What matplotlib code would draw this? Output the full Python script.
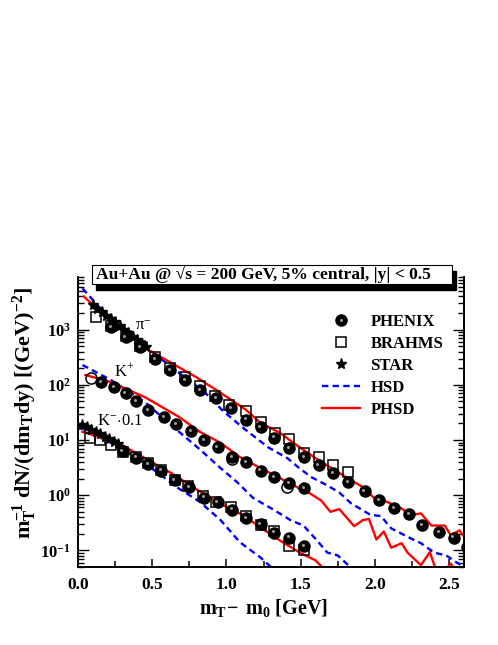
import math
import matplotlib
matplotlib.use('Agg')
import matplotlib.pyplot as plt
import matplotlib.patches as patches
from matplotlib.transforms import offset_copy
from matplotlib.ticker import LogLocator, FuncFormatter, MultipleLocator, NullFormatter
from matplotlib.legend_handler import HandlerTuple
from matplotlib.lines import Line2D

plt.rcParams['font.family'] = ['Liberation Serif', 'DejaVu Serif']
plt.rcParams['mathtext.fontset'] = 'custom'
plt.rcParams['mathtext.rm'] = 'Liberation Serif'
plt.rcParams['mathtext.it'] = 'Liberation Serif:italic'
plt.rcParams['mathtext.bf'] = 'Liberation Serif:bold'

# ---- data ----
# pi-
pi_phenix_x = [0.22, 0.32, 0.42, 0.52, 0.62, 0.72, 0.82, 0.93, 1.03, 1.13, 1.23, 1.32, 1.42,
               1.52, 1.62, 1.72, 1.82, 1.93, 2.03, 2.13, 2.23, 2.32, 2.43, 2.53, 2.62]
pi_phenix_y = [1100, 740, 490, 295, 186, 120, 80, 57, 38, 23.5, 17, 11, 7.2,
               4.9, 3.5, 2.5, 1.74, 1.18, 0.82, 0.59, 0.45, 0.29, 0.215, 0.17, 0.115]
pi_brahms_x = [0.12, 0.22, 0.32, 0.42, 0.52, 0.62, 0.72, 0.82, 0.92, 1.02, 1.13, 1.23,
               1.33, 1.42, 1.52, 1.62, 1.72, 1.82]
pi_brahms_y = [1700, 1150, 760, 500, 320, 200, 140, 95, 63, 44, 34, 21,
               13.5, 10.5, 5.9, 5.0, 3.5, 2.6]
pi_star_x = [0.10, 0.13, 0.16, 0.19, 0.22, 0.25, 0.28, 0.31, 0.34, 0.37, 0.40, 0.43, 0.46]
pi_star_y = [2800, 2400, 2100, 1800, 1550, 1350, 1170, 1000, 870, 750, 650, 560, 480]

# K+
kp_phenix_x = [0.155, 0.24, 0.32, 0.39, 0.47, 0.58, 0.66, 0.76, 0.85, 0.94, 1.04, 1.13,
               1.23, 1.32, 1.42, 1.52]
kp_phenix_y = [112, 91, 71, 51, 35, 26, 19.6, 14.5, 10, 7.4, 4.9, 4.0,
               2.8, 2.1, 1.66, 1.35]
kp_open_x = [0.09, 1.04, 1.41]
kp_open_y = [134, 4.5, 1.4]

# K- * 0.1
km_phenix_x = [0.30, 0.39, 0.47, 0.56, 0.65, 0.75, 0.85, 0.94, 1.04, 1.13, 1.23, 1.32,
               1.42, 1.52]
km_phenix_y = [6.3, 4.8, 3.7, 2.8, 1.85, 1.4, 0.9, 0.76, 0.55, 0.39, 0.30, 0.21,
               0.17, 0.12]
km_brahms_x = [0.08, 0.15, 0.22, 0.30, 0.39, 0.47, 0.56, 0.65, 0.74, 0.84, 0.93, 1.03,
               1.13, 1.23, 1.32, 1.42, 1.52]
km_brahms_y = [11, 10, 8.1, 6.0, 4.9, 3.8, 2.9, 1.9, 1.45, 0.95, 0.74, 0.6,
               0.42, 0.29, 0.22, 0.12, 0.10]
km_star_x = [0.03, 0.06, 0.09, 0.12, 0.15, 0.18, 0.21, 0.24, 0.27]
km_star_y = [18.5, 17, 15.5, 14, 12.7, 11.5, 10.3, 9.3, 8.4]

# HSD (blue dashed)
pi_hsd_x = [0.03, 0.22, 0.45, 0.68, 0.85, 0.98, 1.12, 1.28, 1.41, 1.49, 1.57, 1.68, 1.76,
            1.84, 1.97, 2.04, 2.11, 2.24, 2.31, 2.40, 2.48, 2.56, 2.62]
pi_hsd_y = [5600, 1500, 500, 165, 75, 33, 16, 7.4, 4.7, 3.1, 2.14, 1.5, 1.12,
            0.71, 0.44, 0.42, 0.25, 0.166, 0.135, 0.091, 0.081, 0.058, 0.05]
kp_hsd_x = [0.03, 0.22, 0.45, 0.61, 0.82, 0.96, 1.07, 1.18, 1.32, 1.43, 1.52, 1.61, 1.68,
            1.75, 1.82, 1.86]
kp_hsd_y = [229, 123, 49, 20.4, 6.8, 3.1, 1.74, 0.89, 0.54, 0.355, 0.28, 0.151, 0.091,
            0.081, 0.054, 0.045]
km_hsd_x = [0.0, 0.22, 0.45, 0.68, 0.82, 0.96, 1.09, 1.23, 1.30]
km_hsd_y = [17.4, 8.9, 3.8, 1.32, 0.76, 0.355, 0.141, 0.074, 0.05]

# PHSD (red solid)
pi_phsd_x = [0.04, 0.22, 0.45, 0.62, 0.79, 0.96, 1.13, 1.23, 1.36, 1.45, 1.59, 1.72, 1.84,
             1.93, 1.99, 2.09, 2.18, 2.24, 2.31, 2.38, 2.47, 2.51, 2.57, 2.62]
pi_phsd_y = [3980, 1410, 468, 257, 141, 72, 35.5, 20.4, 13.5, 8.9, 4.9, 2.95, 1.86,
             1.35, 0.91, 0.74, 0.575, 0.436, 0.468, 0.282, 0.282, 0.19, 0.23, 0.15]
kp_phsd_x = [0.05, 0.22, 0.45, 0.68, 0.82, 0.96, 1.09, 1.23, 1.36, 1.50, 1.57, 1.64, 1.70,
             1.76, 1.86, 1.92, 1.96, 2.01, 2.06, 2.11, 2.18, 2.22, 2.31, 2.37, 2.41, 2.46,
             2.51, 2.55]
kp_phsd_y = [151, 112, 60, 26.3, 14.1, 8.9, 4.9, 3.1, 2.04, 1.29, 1.05, 0.79, 0.5,
             0.56, 0.275, 0.355, 0.37, 0.158, 0.22, 0.112, 0.135, 0.091, 0.054, 0.093, 0.045, 0.04,
             0.058, 0.04]
km_phsd_x = [0.03, 0.27, 0.45, 0.63, 0.82, 0.95, 1.05, 1.13, 1.23, 1.36, 1.50, 1.60, 1.66]
km_phsd_y = [14.1, 8.9, 4.7, 2.5, 1.17, 0.71, 0.54, 0.4, 0.26, 0.151, 0.089, 0.066, 0.045]

# ---- figure ----
fig = plt.figure(figsize=(4.98, 6.45), dpi=100)
ax = fig.add_axes([78/498, 1-567/645, 386/498, 290/645])

blue = '#0000ff'
red = '#ff0000'
dash = (2.7, 1.8)
for xs, ys in [(pi_hsd_x, pi_hsd_y), (kp_hsd_x, kp_hsd_y), (km_hsd_x, km_hsd_y)]:
    ax.plot(xs, ys, color=blue, lw=1.7, dashes=dash, zorder=2)
for xs, ys in [(pi_phsd_x, pi_phsd_y), (kp_phsd_x, kp_phsd_y), (km_phsd_x, km_phsd_y)]:
    ax.plot(xs, ys, color=red, lw=1.7, zorder=2)

# BRAHMS squares
for xs, ys in [(pi_brahms_x, pi_brahms_y), (km_brahms_x, km_brahms_y)]:
    ax.plot(xs, ys, ls='none', marker='s', ms=7.5, mfc='none', mec='black', mew=1.1, zorder=3)
# open circles
ax.plot(kp_open_x, kp_open_y, ls='none', marker='o', ms=8, mfc='none', mec='black', mew=1.1, zorder=3)

# PHENIX shaded spheres
hl = offset_copy(ax.transData, fig=fig, x=-0.8, y=0.9, units='points')
for xs, ys in [(pi_phenix_x, pi_phenix_y), (kp_phenix_x, kp_phenix_y), (km_phenix_x, km_phenix_y)]:
    ax.plot(xs, ys, ls='none', marker='o', ms=8, mfc='black', mec='black', zorder=4)
    ax.plot(xs, ys, ls='none', marker='o', ms=2.2, mfc='#999999', mec='none', transform=hl, zorder=5)

# STAR stars
for xs, ys in [(pi_star_x, pi_star_y), (km_star_x, km_star_y)]:
    ax.plot(xs, ys, ls='none', marker='*', ms=8, mfc='black', mec='black', zorder=4)

ax.set_yscale('log')
ax.set_xlim(0, 2.6)
ax.set_ylim(0.05, 9000)

ax.spines['top'].set_visible(False)
for s in ['left', 'bottom', 'right']:
    ax.spines[s].set_linewidth(1.4)

ax.xaxis.set_major_locator(MultipleLocator(0.5))
ax.xaxis.set_minor_locator(MultipleLocator(0.25))
ax.xaxis.set_major_formatter(FuncFormatter(lambda v, p: '%.1f' % v))
ax.yaxis.set_major_locator(LogLocator(base=10, numticks=20))
ax.yaxis.set_minor_locator(LogLocator(base=10, subs=range(2, 10), numticks=20))
ax.yaxis.set_minor_formatter(NullFormatter())
ax.yaxis.set_major_formatter(FuncFormatter(lambda v, p: r'$\mathbf{10^{%d}}$' % round(math.log10(v))))

ax.tick_params(axis='x', which='both', direction='in', top=False, width=1.1)
ax.tick_params(axis='x', which='major', length=6, labelsize=12.5, pad=7)
ax.tick_params(axis='x', which='minor', length=4)
ax.tick_params(axis='y', which='both', direction='in', left=True, right=True, width=1.0)
ax.tick_params(axis='y', which='major', length=8, labelsize=12, pad=5)
ax.tick_params(axis='y', which='minor', length=4)
for lab in ax.get_xticklabels():
    lab.set_fontweight('bold')

ax.set_xlabel(r'$\mathbf{m_{T}\!-\ m_{0}\ [GeV]}$', fontsize=14.5)
ax.xaxis.set_label_coords(0.48, -0.105)
ax.set_ylabel(r'$\mathbf{m_{T}^{-1}\ dN/(dm_{T}dy)\ [(GeV)^{-2}]}$', fontsize=16)
ax.yaxis.set_label_coords(-0.10, 0.53)

# particle labels
ax.text(0.385, 1000, r'$\mathrm{\pi}^{-}$', fontsize=12, va='baseline')
ax.text(0.24, 140, r'$\mathrm{K}^{+}$', fontsize=12, va='baseline')
ax.text(0.13, 19, r'$\mathrm{K}^{-}\!\cdot\!\mathrm{0.1}$', fontsize=12, va='baseline')

# legend
h_phenix = (Line2D([], [], ls='none', marker='o', ms=8, mfc='black', mec='black'),
            Line2D([], [], ls='none', marker='o', ms=2.2, mfc='#999999', mec='none'))
h_brahms = Line2D([], [], ls='none', marker='s', ms=7, mfc='none', mec='black', mew=1.1)
h_star = Line2D([], [], ls='none', marker='*', ms=8, mfc='black', mec='black')
h_hsd = Line2D([], [], color=blue, lw=1.7, dashes=dash)
h_phsd = Line2D([], [], color=red, lw=1.7)
ax.legend([h_phenix, h_brahms, h_star, h_hsd, h_phsd],
          ['PHENIX', 'BRAHMS', 'STAR', 'HSD', 'PHSD'],
          handler_map={tuple: HandlerTuple(ndivide=1)},
          loc='upper left', bbox_to_anchor=(0.632, 0.874), frameon=False,
          prop={'weight': 'bold', 'size': 12}, handlelength=2.3, handletextpad=0.6,
          labelspacing=0.36, borderpad=0, borderaxespad=0)

# title box with shadow
W, H = 498.0, 645.0
bx0, bx1, by0, by1 = 92, 452, 265, 284
fig.patches.append(patches.Rectangle(((bx0 + 4) / W, 1 - (by1 + 6) / H), (bx1 - bx0) / W, (by1 - by0) / H,
                                     transform=fig.transFigure, facecolor='black', edgecolor='black', zorder=10))
fig.patches.append(patches.Rectangle((bx0 / W, 1 - by1 / H), (bx1 - bx0) / W, (by1 - by0) / H,
                                     transform=fig.transFigure, facecolor='white', edgecolor='black',
                                     lw=0.8, zorder=11))
fig.text(263.5 / W, 1 - (by0 + by1) / 2 / H, 'Au+Au @ √s = 200 GeV, 5% central, |y| < 0.5',
         ha='center', va='center', fontsize=12.6, fontweight='bold', zorder=12)

fig.savefig('out.png', dpi=100)
